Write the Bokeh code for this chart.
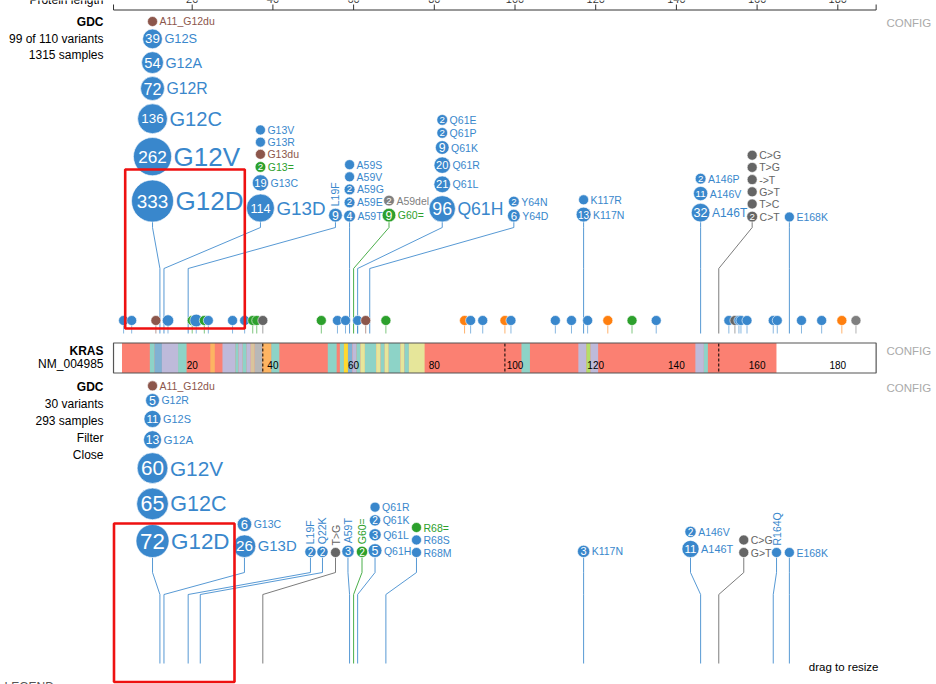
import math
from bokeh.plotting import figure
from bokeh.models import Range1d, ColumnDataSource
from bokeh.core.properties import value
from bokeh.embed import file_html
from bokeh.resources import INLINE

FONT = "Liberation Sans"

# ---------------- data ----------------
protein_length = 189
ruler_ticks = [20, 40, 60, 80, 100, 120, 140, 160, 180]
bar_ticks = [20, 40, 60, 80, 100, 120, 140, 160, 180]
exon_bounds = [37.5, 97.5, 150.5]

# protein domain segments (aa)
seg_start = [2.6, 9.5, 10.7, 12.5, 16.5, 24.5, 27.5, 30.7, 31.5, 32.5, 33.5, 34.5, 35.5, 37.4, 39.6,
             53.6, 56.6, 57.6, 58.6, 59.7, 60.7, 61.7, 62.8, 65.6, 66.7, 67.7, 68.7, 71.6, 72.6, 73.7,
             101.6, 115.7, 117.7, 118.7, 144.7, 146.8]
seg_end = [164.8, 10.7, 12.5, 16.5, 18.6, 25.6, 30.7, 31.5, 32.5, 33.5, 34.5, 35.5, 37.4, 39.6, 41.6,
           55.8, 57.6, 58.6, 59.7, 60.7, 61.7, 62.8, 65.6, 66.7, 67.7, 68.7, 71.6, 72.6, 73.7, 77.6,
           103.7, 117.7, 118.7, 120.6, 146.8, 147.8]
seg_kind = ["ras", "t", "b", "l", "t", "o", "l", "t", "l", "t", "l", "tan", "g", "o", "t",
            "t", "t", "y", "b", "l", "t", "py", "t", "py", "t", "py", "t", "py", "t", "py",
            "t", "l", "gy", "l", "l", "t"]

# upper track: GDC, 1315 samples
top_pos = [12, 12, 12, 12, 12, 12, 12,
           13, 13, 13, 13, 13, 13,
           19,
           59, 59, 59, 59, 59,
           60, 60,
           61, 61, 61, 61, 61, 61,
           64, 64,
           117, 117,
           146, 146, 146,
           150.5, 150.5, 150.5, 150.5, 150.5, 150.5,
           168]
top_lab = ["G12D", "G12V", "G12C", "G12R", "G12A", "G12S", "A11_G12du",
           "G13D", "G13C", "G13=", "G13du", "G13R", "G13V",
           "L19F",
           "A59T", "A59E", "A59G", "A59V", "A59S",
           "G60=", "A59del",
           "Q61H", "Q61L", "Q61R", "Q61K", "Q61P", "Q61E",
           "Y64D", "Y64N",
           "K117N", "K117R",
           "A146T", "A146V", "A146P",
           "C>T", "T>C", "G>T", "->T", "T>G", "C>G",
           "E168K"]
top_cnt = [333, 262, 136, 72, 54, 39, 1,
           114, 19, 2, 1, 1, 1,
           9,
           4, 2, 2, 1, 1,
           9, 2,
           96, 21, 20, 9, 2, 2,
           6, 2,
           13, 1,
           32, 11, 2,
           2, 1, 1, 1, 1, 1,
           1]
top_cls = ["M", "M", "M", "M", "M", "M", "I",
           "M", "M", "S", "I", "M", "M",
           "M",
           "M", "M", "M", "M", "M",
           "S", "D",
           "M", "M", "M", "M", "M", "M",
           "M", "M",
           "M", "M",
           "M", "M", "M",
           "X", "X", "X", "X", "X", "X",
           "M"]

# upper track: unlabeled single discs on the protein
row_pos = [3, 5, 11, 14, 20, 21, 23, 24, 30, 33, 35, 36, 37.5, 52, 56, 58, 61, 63, 68,
           87.5, 89, 92, 97.5, 99, 110, 114, 118, 123, 129, 135,
           153, 154.5, 155.5, 156, 157.5, 164, 165, 171, 176, 181, 184.5]
row_cls = ["M", "M", "I", "M", "S", "M", "S", "M", "M", "M", "S", "S", "X", "S", "M", "M", "M", "I", "S",
           "N", "M", "M", "N", "M", "M", "M", "M", "N", "S", "M",
           "M", "X", "M", "M", "M", "M", "M", "M", "M", "N", "D"]
row_cnt = [1, 1, 1, 3, 1, 6, 1, 1, 1, 1, 1, 1, 1, 1, 1, 1, 1, 1, 1,
           1, 1, 1, 1, 1, 1, 1, 1, 1, 1, 1,
           1, 1, 1, 1, 1, 1, 1, 1, 1, 1, 1]

# lower track: GDC, 293 samples
bot_pos = [12, 12, 12, 12, 12, 12, 12,
           13, 13,
           19, 22, 37.5, 59, 60,
           61, 61, 61, 61,
           68, 68, 68,
           117,
           146, 146,
           150.5, 150.5,
           164, 168]
bot_lab = ["G12D", "G12C", "G12V", "G12A", "G12S", "G12R", "A11_G12du",
           "G13D", "G13C",
           "L19F", "Q22K", "T>G", "A59T", "G60=",
           "Q61H", "Q61L", "Q61K", "Q61R",
           "R68M", "R68S", "R68=",
           "K117N",
           "A146T", "A146V",
           "G>T", "C>G",
           "R164Q", "E168K"]
bot_cnt = [72, 65, 60, 13, 11, 5, 1,
           26, 6,
           2, 2, 1, 3, 2,
           5, 3, 2, 1,
           1, 1, 1,
           3,
           11, 2,
           1, 1,
           1, 1]
bot_cls = ["M", "M", "M", "M", "M", "M", "I",
           "M", "M",
           "M", "M", "X", "M", "S",
           "M", "M", "M", "M",
           "M", "M", "S",
           "M",
           "M", "M",
           "X", "X",
           "M", "M"]

# ---------------- layout / style ----------------
CLS_COLOR = {"M": "#3987CC", "I": "#8c564b", "S": "#2ca02c", "N": "#ff7f0e",
             "X": "#656565", "D": "#7f7f7f"}
SEG_COLOR = {"ras": "#fb8072", "t": "#8dd3c7", "b": "#80b1d3", "l": "#bebada", "o": "#fdb462",
             "tan": "#d9c49c", "g": "#b8b8b8", "y": "#ffd92f", "py": "#e6e69a", "gy": "#b3de69"}

W, H = 936, 684
PX_AA = 4.035          # screen px per residue
AA0 = 111.0            # page x of residue 0


def ax(px):
    return (px - AA0) / PX_AA


# label column shifts (screen px) and vertical-label groups
top_shift = {12: -7.4, 13: 96.5, 19: 147.3, 60: 35.4, 61: 84.6, 64: 144.1, 150.5: 33.4}
top_vert = {19}
bot_shift = {12: -7.4, 13: 80.5, 19: 122.3, 22: 122.2, 37.5: 72.7, 59: -1.6, 60: 8.4,
             61: 17.4, 68: 30.6, 146: -10.1, 150.5: 25.0, 164: 3.3}
bot_vert = {19, 22, 37.5, 59, 60, 164}

p = figure(width=W, height=H, x_range=Range1d(ax(0), ax(W)), y_range=Range1d(H, 0),
           output_backend="svg", toolbar_location=None, min_border=0,
           x_axis_location=None, y_axis_location=None, outline_line_color=None)
p.grid.visible = False


def radius(c, cmax, rmax):
    return 5 + (rmax - 5) * (math.sqrt(c) - 1) / (math.sqrt(cmax) - 1)


def draw_track(pos, lab, cnt, cls, shift, vert, base, k1, k2, end, rmax, gapk):
    cmax = max(cnt)
    order = []
    for q in pos:
        if q not in order:
            order.append(q)
    stems = dict(xs=[], ys=[], c=[])
    discs = dict(x=[], y=[], s=[], c=[])
    nums = dict(x=[], y=[], t=[], fs=[])
    hl = dict(x=[], y=[], t=[], fs=[], c=[], off=[])
    vl = dict(x=[], y=[], t=[], fs=[], c=[])
    for g in order:
        idx = [i for i, q in enumerate(pos) if q == g]
        colx = g + shift.get(g, 0.0) / PX_AA
        stems["xs"].append([colx, colx, g, g])
        stems["ys"].append([base, k1, k2, end])
        stems["c"].append(CLS_COLOR[cls[idx[0]]])
        prev_cy, prev_r = None, None
        for i in idx:
            r = radius(cnt[i], cmax, rmax)
            if prev_cy is None:
                cy = base - r
            else:
                cy = prev_cy - ((prev_r + r) * gapk + 1.5)
            col = CLS_COLOR[cls[i]]
            discs["x"].append(colx); discs["y"].append(cy); discs["s"].append(2 * r); discs["c"].append(col)
            if cnt[i] >= 2:
                nd = len(str(cnt[i]))
                fs = min(1.8 * r, 2.7 * r / nd)
                nums["x"].append(colx); nums["y"].append(cy); nums["t"].append(str(cnt[i]))
                nums["fs"].append("%.1fpx" % fs)
            lfs = min(26, max(10.5, 1.45 * r - 1.5))
            if g in vert:
                vl["x"].append(colx); vl["y"].append(cy - r - 2); vl["t"].append(lab[i])
                vl["fs"].append("%.1fpx" % lfs); vl["c"].append(col)
            else:
                hl["x"].append(colx); hl["y"].append(cy); hl["t"].append(lab[i])
                hl["fs"].append("%.1fpx" % lfs); hl["c"].append(col); hl["off"].append(r + 2)
            prev_cy, prev_r = cy, r
    p.multi_line(xs="xs", ys="ys", line_color="c", line_width=1, line_alpha=0.85,
                 source=ColumnDataSource(stems))
    p.scatter(x="x", y="y", size="s", fill_color="c", line_color="white", line_width=0.6,
              source=ColumnDataSource(discs))
    p.text(x="x", y="y", text="t", text_font_size="fs", text_color="white", text_align="center",
           text_baseline="middle", text_font=value(FONT), source=ColumnDataSource(nums))
    p.text(x="x", y="y", text="t", text_font_size="fs", text_color="c", text_align="left",
           text_baseline="middle", x_offset="off", text_font=value(FONT), source=ColumnDataSource(hl))
    p.text(x="x", y="y", text="t", text_font_size="fs", text_color="c", text_align="left",
           text_baseline="middle", angle=math.pi / 2, text_font=value(FONT),
           source=ColumnDataSource(vl))


# ---- top ruler ----
p.segment(x0=[0.5], x1=[protein_length + 0.5], y0=[9.5], y1=[9.5], line_color="#333", line_width=1)
p.segment(x0=ruler_ticks + [0.5, protein_length + 0.5], x1=ruler_ticks + [0.5, protein_length + 0.5],
          y0=[9.5] * 11, y1=[4] * 11, line_color="#333", line_width=1)
p.text(x=ruler_ticks, y=[2.5] * len(ruler_ticks), text=[str(t) for t in ruler_ticks],
       text_font_size="11px", text_align="center", text_baseline="bottom", text_color="#333",
       text_font=value(FONT))
p.text(x=[ax(103)], y=[6], text=["Protein length"], text_font_size="12px", text_align="right",
       text_baseline="bottom", text_color="black", text_font=value(FONT))

# ---- upper track single discs ----
row_r = [radius(c, max(top_cnt), 21) for c in row_cnt]
p.segment(x0=row_pos, x1=row_pos, y0=[320] * len(row_pos), y1=[333] * len(row_pos),
          line_color=[CLS_COLOR[c] for c in row_cls], line_alpha=0.6, line_width=1)

draw_track(top_pos, top_lab, top_cnt, top_cls, top_shift, top_vert, 221.5, 227, 268, 333, 21, 1.07)

p.scatter(x=row_pos, y=[320] * len(row_pos), size=[2 * r for r in row_r],
          fill_color=[CLS_COLOR[c] for c in row_cls], line_color="white", line_width=0.6)

# ---- protein bar ----
p.quad(left=[0.5], right=[protein_length + 0.5], top=[342.5], bottom=[372.5],
       fill_color="white", line_color=None)
p.quad(left=seg_start, right=seg_end, top=[342.5] * len(seg_start), bottom=[372.5] * len(seg_start),
       fill_color=[SEG_COLOR[k] for k in seg_kind], line_color=None)
p.segment(x0=exon_bounds, x1=exon_bounds, y0=[343] * 3, y1=[372] * 3, line_color="black",
          line_dash="3 2", line_width=1)
p.quad(left=[0.5], right=[protein_length + 0.5], top=[342.5], bottom=[372.5],
       fill_color=None, line_color="#555", line_width=1.2)
p.text(x=bar_ticks, y=[364.5] * len(bar_ticks), text=[str(t) for t in bar_ticks],
       text_font_size="10px", text_align="center", text_baseline="middle", text_color="black",
       text_font=value(FONT))

# ---- lower track ----
draw_track(bot_pos, bot_lab, bot_cnt, bot_cls, bot_shift, bot_vert, 557, 572, 594, 663, 16.5, 1.1)

# ---- left captions ----
cap_txt = ["GDC", "99 of 110 variants", "1315 samples", "KRAS", "NM_004985",
           "GDC", "30 variants", "293 samples", "Filter", "Close"]
cap_y = [21, 38, 54, 350, 363.5, 386, 403, 420, 437, 454]
cap_bold = [True, False, False, True, False, True, False, False, False, False]
for t, y, b in zip(cap_txt, cap_y, cap_bold):
    p.text(x=[ax(103)], y=[y], text=[t], text_font_size="12px", text_align="right",
           text_baseline="middle", text_color="black", text_font=value(FONT),
           text_font_style="bold" if b else "normal")

p.text(x=[ax(886)] * 3, y=[22, 350, 387], text=["CONFIG"] * 3, text_font_size="11.5px",
       text_align="left", text_baseline="middle", text_color="#aaaaaa", text_font=value(FONT))
p.text(x=[ax(878)], y=[666], text=["drag to resize"], text_font_size="11.5px", text_align="right",
       text_baseline="middle", text_color="black", text_font=value(FONT))
p.text(x=[ax(4)], y=[679], text=["LEGEND"], text_font_size="12px", text_align="left",
       text_baseline="top", text_color="#555", text_font=value(FONT))

# ---- red highlight boxes ----
p.quad(left=[ax(124.7), ax(113.5)], right=[ax(244.3), ax(234)], top=[169, 523], bottom=[328, 681.5],
       fill_color=None, line_color="#ee1111", line_width=2.6)

open("out.html", "w").write(file_html(p, INLINE))
